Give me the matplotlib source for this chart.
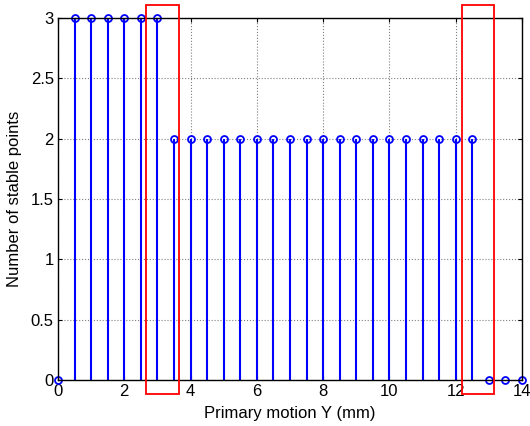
import matplotlib.pyplot as plt
import numpy as np
from matplotlib.patches import Rectangle

plt.rcParams['font.family'] = ['Liberation Sans', 'DejaVu Sans']

# data
motion_y = np.arange(0, 14.5, 0.5)
stable_points = [0, 3, 3, 3, 3, 3, 3,
                 2, 2, 2, 2, 2, 2, 2, 2, 2, 2, 2, 2, 2, 2, 2, 2, 2, 2, 2,
                 0, 0, 0]

# highlighted regions (x0, x1)
regions = [(2.66, 3.65), (12.18, 13.17)]

fig = plt.figure(figsize=(5.30, 4.26), dpi=100)
ax = fig.add_axes([58/530, 1 - 380/426, (522-58)/530, (380-18)/426])

markerline, stemlines, baseline = ax.stem(motion_y, stable_points, linefmt='b-', markerfmt='bo', basefmt=' ')
markerline.set_markerfacecolor('none')
markerline.set_markersize(5)
markerline.set_markeredgewidth(1.3)
markerline.set_clip_on(False)
stemlines.set_linewidth(1.5)

ax.set_xlim(0, 14)
ax.set_ylim(0, 3)
ax.set_xticks(np.arange(0, 15, 2))
ax.set_yticks(np.arange(0, 3.5, 0.5))
ax.set_yticklabels(['0', '0.5', '1', '1.5', '2', '2.5', '3'])
ax.grid(True, linestyle=':', color='gray', linewidth=0.8)
ax.tick_params(direction='in', top=True, right=True, labelsize=12, length=3, pad=3)
for s in ax.spines.values():
    s.set_linewidth(1)

for x0, x1 in regions:
    ax.add_patch(Rectangle((x0, -0.116), x1 - x0, 3.226, fill=False,
                           edgecolor='red', linewidth=1.3, clip_on=False, zorder=5))

ax.set_xlabel('Primary motion Y (mm)', fontsize=12, labelpad=5)
ax.set_ylabel('Number of stable points', fontsize=12, labelpad=6)

fig.savefig('out.png', dpi=100)
